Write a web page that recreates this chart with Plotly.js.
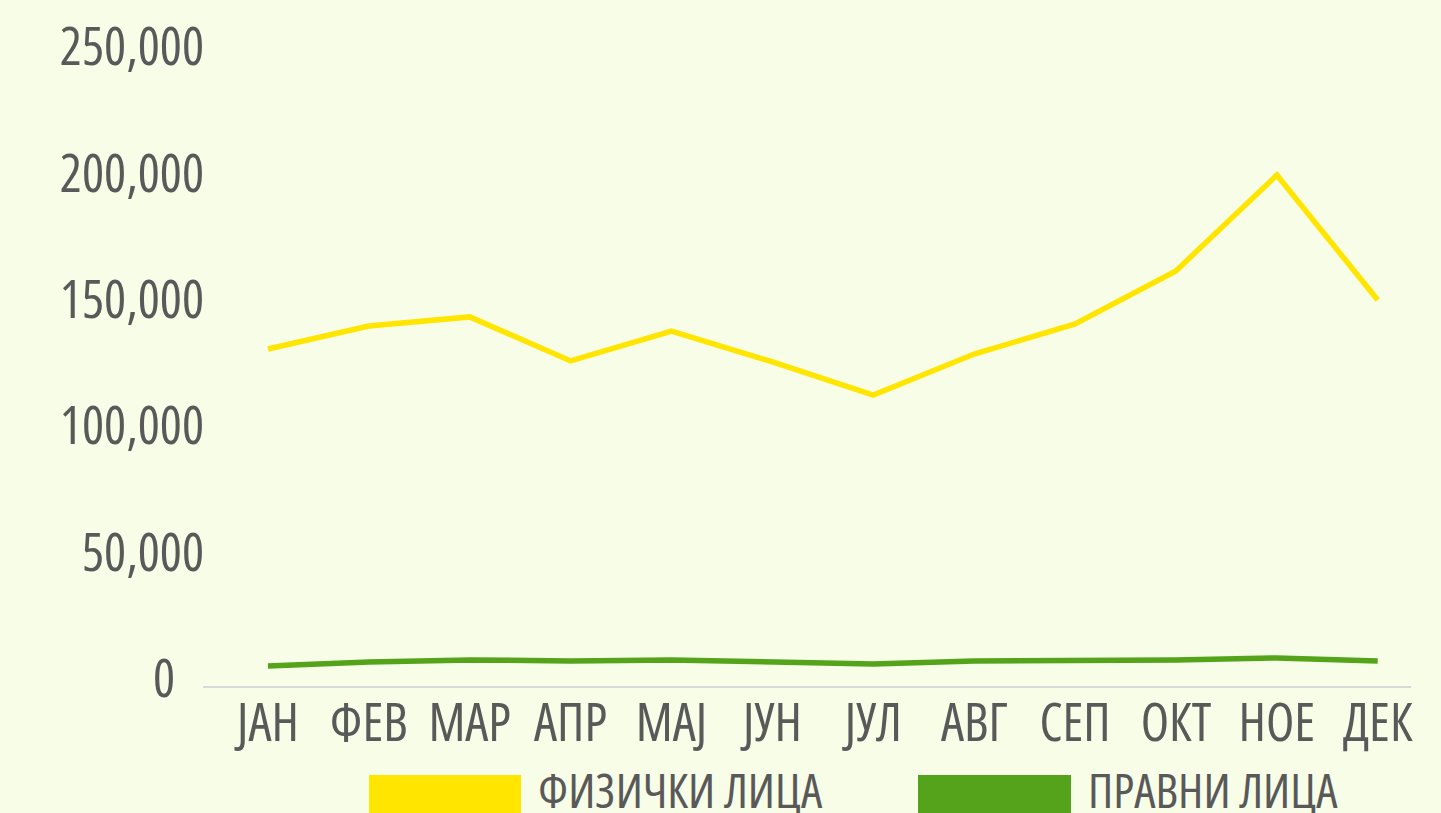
<!DOCTYPE html>
<html>
<head>
<meta charset="utf-8">
<script src="https://cdn.plot.ly/plotly-3.0.1.min.js"></script>
<style>
  html, body { margin: 0; padding: 0; background: #F7FDE7; }
  #chart { width: 1441px; height: 813px; }
  text, tspan { font-stretch: 80% !important; }
</style>
</head>
<body>
<div id="chart"></div>
<script>
const months = ["ЈАН", "ФЕВ", "МАР", "АПР", "МАЈ", "ЈУН", "ЈУЛ", "АВГ", "СЕП", "ОКТ", "НОЕ", "ДЕК"];
const fizicki = [133300, 142400, 146000, 128600, 140400, 128200, 115100, 131300, 143200, 164200, 202100, 152700];
const pravni = [7900, 9500, 10300, 9900, 10300, 9500, 8700, 9900, 9900, 10300, 11100, 9900];
const seriesNames = ["ФИЗИЧКИ ЛИЦА", "ПРАВНИ ЛИЦА"];
const seriesColors = ["#FFE500", "#54A31B"];
const yTickVals = [0, 50000, 100000, 150000, 200000, 250000];
const yTickText = ["0\u00A0\u00A0\u00A0", "50,000", "100,000", "150,000", "200,000", "250,000"];

const FONT = "'Open Sans', sans-serif";
const TXT = "#595959";

const L = 203, R = 1411, T = 54, B = 686, W = 1441, H = 813;
const px = x => (x - L) / (R - L);
const py = y => (B - y) / (B - T);

const traces = [
  { x: months.map((_, i) => i), y: fizicki, type: "scatter", mode: "lines", name: seriesNames[0],
    line: { color: seriesColors[0], width: 5.5 }, hoverinfo: "skip" },
  { x: months.map((_, i) => i), y: pravni, type: "scatter", mode: "lines", name: seriesNames[1],
    line: { color: seriesColors[1], width: 5.5 }, hoverinfo: "skip" }
];

const layout = {
  width: W, height: H,
  paper_bgcolor: "#F7FDE7", plot_bgcolor: "#F7FDE7",
  margin: { l: L, r: W - R, t: T, b: H - B, pad: 0 },
  showlegend: false,
  font: { family: FONT, color: TXT, size: 52 },
  xaxis: {
    range: [-0.644, 11.33],
    tickvals: months.map((_, i) => i), ticktext: months, tickangle: 0,
    showgrid: false, zeroline: false,
    showline: true, linecolor: "#D9D9D9", linewidth: 2,
    ticks: "", tickfont: { family: FONT, color: TXT, size: 52 },
    ticklabelstandoff: -9,
    fixedrange: true
  },
  yaxis: {
    range: [0, 250000],
    tickvals: yTickVals, ticktext: yTickText,
    showgrid: false, zeroline: false, showline: false,
    ticks: "", tickfont: { family: FONT, color: TXT, size: 52 },
    ticklabelstandoff: -2, ticklabelshift: -7,
    fixedrange: true
  },
  shapes: [
    { type: "rect", xref: "paper", yref: "paper", x0: px(369), x1: px(521), y0: py(775), y1: py(830),
      fillcolor: seriesColors[0], line: { width: 0 } },
    { type: "rect", xref: "paper", yref: "paper", x0: px(918), x1: px(1071), y0: py(775), y1: py(830),
      fillcolor: seriesColors[1], line: { width: 0 } }
  ],
  annotations: [
    { xref: "paper", yref: "paper", x: px(536), y: py(789), xanchor: "left", yanchor: "middle",
      text: seriesNames[0], showarrow: false, font: { family: FONT, color: TXT, size: 48 } },
    { xref: "paper", yref: "paper", x: px(1086), y: py(789), xanchor: "left", yanchor: "middle",
      text: seriesNames[1], showarrow: false, font: { family: FONT, color: TXT, size: 48 } }
  ]
};

Plotly.newPlot("chart", traces, layout, { displayModeBar: false, staticPlot: true });
</script>
</body>
</html>
